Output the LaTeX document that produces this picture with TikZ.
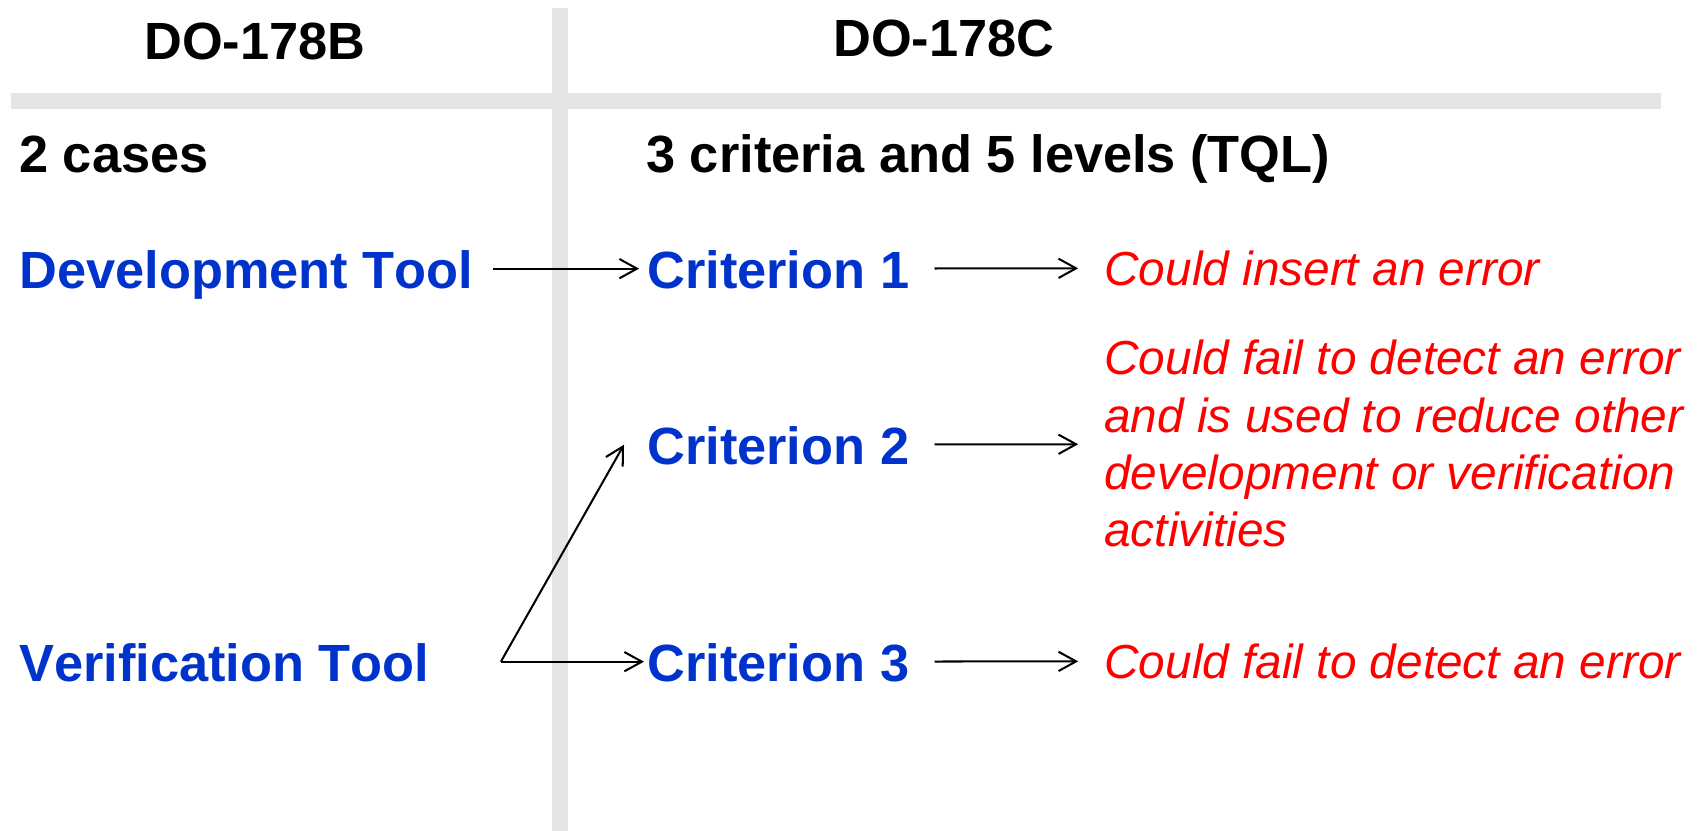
\documentclass[tikz,border=0pt]{standalone}
\usepackage{fontspec}
\setmainfont{Liberation Sans}[Kerning=Off]
\usetikzlibrary{arrows.meta,calc}
\definecolor{toolblue}{RGB}{0,51,204}
\definecolor{riskred}{RGB}{255,0,0}
\definecolor{rulegray}{RGB}{229,229,229}

\begin{document}
\begin{tikzpicture}[x=0.02cm, y=-0.02cm,
    head/.style={font=\bfseries\fontsize{29.8}{36}\selectfont, inner sep=0pt, anchor=base west},
    tool/.style={head, text=toolblue, text height=22pt, text depth=0pt},
    risk/.style={font=\itshape\fontsize{27.2}{32.6}\selectfont, text=riskred, inner sep=0pt},
    arr/.style={-{Straight Barb[length=10pt,width=11pt]}, line width=1.15pt},
    bar/.style={rulegray, line width=9pt}]
      \useasboundingbox (0,0) rectangle (1700,831);
      \draw [bar] (11,101) -- (1661,101);
      \draw [bar] (560,8) -- (560,831);
      \node (B) [head] at (144,60) {DO-178B};
      \node (C) [head] at (833,57) {DO-178C};
      \node (Cases) [head] at (19,173) {2 cases};
      \node (TQL) [head] at (646,173) {3 criteria and 5 levels (TQL)};
      \node (Dev) [tool] at (19,288) {Development Tool};
      \node (Ver) [tool] at (19,681) {Verification Tool};
      \node (C1) [tool] at (647,288) {Criterion 1};
      \node (C2) [tool] at (647,464) {Criterion 2};
      \node (C3) [tool] at (647,681) {Criterion 3};
      \node (E1) [risk, anchor=base west, text height=19.3pt, text depth=0pt] at (1104,285) {Could insert an error};
      \node (E2) [risk, anchor=north west, align=left] at (1104,340) {Could fail to detect an error\\and is used to reduce other\\development or verification\\activities};
      \node (E3) [risk, anchor=base west, text height=19.3pt, text depth=0pt] at (1104,678) {Could fail to detect an error};
      \coordinate (F) at ($(Ver.east)+(71,0)$);
      \draw [arr, shorten <=11.3pt, shorten >=4.5pt] (Dev) to (C1);
      \draw [arr, shorten >=1.7pt] (F) to (C3);
      \draw [arr] (F) to ([xshift=-0.46cm]C2.west);
      \draw [arr, shorten <=14.2pt, shorten >=14.7pt] (C1) to (E1);
      \draw [arr, shorten <=14.2pt, shorten >=14.7pt] (C2) to (E2);
      \draw [arr, shorten <=14.2pt, shorten >=14.7pt] (C3) to (E3);
\end{tikzpicture}
\end{document}
